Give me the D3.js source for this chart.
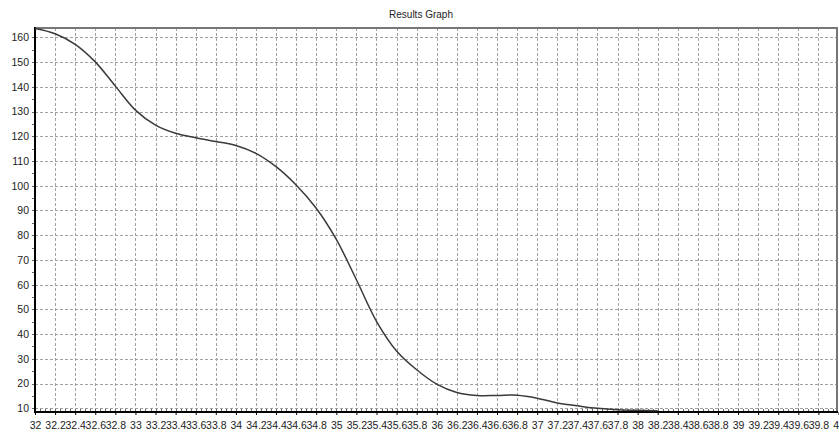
<!DOCTYPE html>
<html>
<head>
<meta charset="utf-8">
<script src="https://cdn.jsdelivr.net/npm/d3@7"></script>
<style>
  body { margin: 0; background: #fff; }
  text { font-family: "Liberation Sans", Arial, sans-serif; fill: #222; }
</style>
</head>
<body>
<script>
var title = "Results Graph";

// readings, every 0.2 on x
var xValues = [32, 32.2, 32.4, 32.6, 32.8, 33, 33.2, 33.4, 33.6, 33.8, 34, 34.2, 34.4, 34.6, 34.8, 35,
               35.2, 35.4, 35.6, 35.8, 36, 36.2, 36.4, 36.6, 36.8, 37, 37.2, 37.4, 37.6, 37.8, 38, 38.2];
var yValues = [163.6, 161.5, 157.2, 150.1, 140.3, 130.6, 124.5, 121.2, 119.4, 117.9, 116.3, 113.1, 107.7, 100.3, 90.9, 78.3,
               62, 45.2, 33.2, 25.6, 19.8, 16.4, 15.2, 15.2, 15.3, 14.1, 12.1, 11, 10, 9.4, 9.2, 9.0];

var yTicks = [10, 20, 30, 40, 50, 60, 70, 80, 90, 100, 110, 120, 130, 140, 150, 160];
var xTicks = d3.range(0, 41).map(function(i){ return +(32 + i*0.2).toFixed(1); });

var width = 839, height = 432;
var plotLeft = 35, plotRight = 838.5, plotTop = 28, plotBottom = 412;

var svg = d3.select("body").append("svg").attr("width", width).attr("height", height);

var x = d3.scaleLinear().domain([32, 40]).range([plotLeft, plotRight]);
var y = d3.scaleLinear().domain([8.5, 163.8]).range([plotBottom, plotTop]);

// grid
svg.selectAll("line.hgrid")
  .data(yTicks)
  .enter().append("line")
          .attr("class", "hgrid")
          .attr("x1", plotLeft).attr("x2", plotRight - 2)
          .attr("y1", function(d){ return Math.round(y(d)) + 0.5; })
          .attr("y2", function(d){ return Math.round(y(d)) + 0.5; })
          .attr("stroke", "#a0a0a0")
          .attr("stroke-dasharray", "3,2");

svg.selectAll("line.vgrid")
  .data(xTicks.slice(1, -1))
  .enter().append("line")
          .attr("class", "vgrid")
          .attr("x1", function(d){ return Math.round(x(d)) + 0.5; })
          .attr("x2", function(d){ return Math.round(x(d)) + 0.5; })
          .attr("y1", plotTop).attr("y2", plotBottom)
          .attr("stroke", "#a0a0a0")
          .attr("stroke-dasharray", "3,2");

// top and right border
svg.append("line").attr("x1", plotLeft).attr("x2", 838).attr("y1", plotTop).attr("y2", plotTop)
  .attr("stroke", "#777").attr("stroke-width", 2);
svg.append("line").attr("x1", 837).attr("x2", 837).attr("y1", plotTop).attr("y2", plotBottom)
  .attr("stroke", "#777").attr("stroke-width", 2);

// minor ticks
svg.selectAll("line.xminor")
  .data(d3.range(0, 161).map(function(i){ return 32 + i*0.05; }))
  .enter().append("line")
          .attr("class", "xminor")
          .attr("x1", function(d){ return Math.round(x(d)) + 0.5; })
          .attr("x2", function(d){ return Math.round(x(d)) + 0.5; })
          .attr("y1", plotBottom - 3).attr("y2", plotBottom)
          .attr("stroke", "#666");

svg.selectAll("line.yminor")
  .data(d3.range(10, 165, 5))
  .enter().append("line")
          .attr("class", "yminor")
          .attr("x1", plotLeft - 3).attr("x2", plotLeft)
          .attr("y1", function(d){ return Math.round(y(d)) + 0.5; })
          .attr("y2", function(d){ return Math.round(y(d)) + 0.5; })
          .attr("stroke", "#666");

// axes
var xAxis = d3.axisBottom(x).tickValues(xTicks).tickSize(3)
  .tickFormat(function(d){ return String(+d.toFixed(1)); });
var gx = svg.append("g").attr("transform", "translate(0," + plotBottom + ")").call(xAxis);
gx.select(".domain").remove();
gx.selectAll("line").attr("stroke", "#000");
gx.selectAll("text").attr("y", 10).attr("font-size", 10.5).attr("font-family", "Liberation Sans, Arial, sans-serif").attr("fill", "#222");

var yAxis = d3.axisLeft(y).tickValues(yTicks).tickSize(0).tickPadding(6);
var gy = svg.append("g").attr("transform", "translate(" + plotLeft + ",0)").call(yAxis);
gy.select(".domain").remove();
gy.selectAll("text").attr("font-size", 10.5).attr("font-family", "Liberation Sans, Arial, sans-serif").attr("fill", "#222");

svg.append("line").attr("x1", plotLeft).attr("x2", plotLeft).attr("y1", plotTop - 1).attr("y2", plotBottom + 1)
  .attr("stroke", "#000").attr("stroke-width", 2);
svg.append("line").attr("x1", plotLeft - 1).attr("x2", 838).attr("y1", plotBottom).attr("y2", plotBottom)
  .attr("stroke", "#000").attr("stroke-width", 2);

// curve
var line = d3.line()
  .x(function(d, i){ return x(xValues[i]); })
  .y(function(d){ return y(d); })
  .curve(d3.curveCatmullRom.alpha(0.5));

svg.append("path")
  .datum(yValues)
  .attr("d", line)
  .attr("fill", "none")
  .attr("stroke", "#3a3a3a")
  .attr("stroke-width", 1.5);

svg.append("text")
  .text(title)
  .attr("x", 421)
  .attr("y", 17.5)
  .attr("text-anchor", "middle")
  .attr("font-size", 10);
</script>
</body>
</html>
